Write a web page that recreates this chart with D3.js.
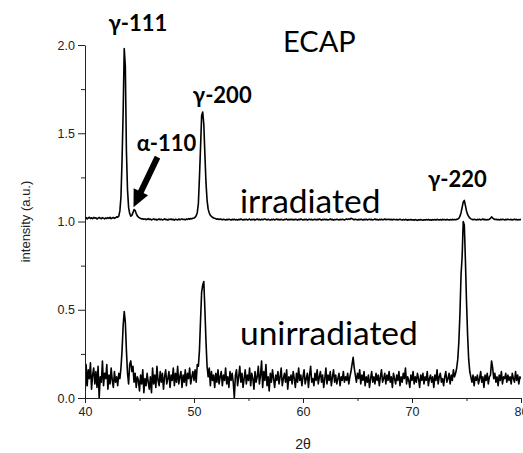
<!DOCTYPE html>
<html>
<head>
<meta charset="utf-8">
<script src="https://cdn.jsdelivr.net/npm/d3@7/dist/d3.min.js"></script>
<style>
  html, body { margin: 0; padding: 0; background: #fff; }
  svg { display: block; }
</style>
</head>
<body>
<svg id="chart" width="523" height="453"></svg>
<script>
// XRD scan: 2θ from 40° to 80° in 0.1° steps
const thetaStart = 40, thetaStep = 0.1;

// Irradiated ECAP sample (intensity, a.u.), one row per degree
const irradiated = [
  1.018,1.022,1.015,1.020,1.024,1.017,1.021,1.016,1.023,1.019,
  1.021,1.014,1.019,1.023,1.018,1.016,1.022,1.019,1.015,1.020,
  1.017,1.022,1.018,1.024,1.016,1.020,1.023,1.018,1.021,1.026,
  1.025,1.030,1.060,1.140,1.350,1.620,1.980,1.880,1.400,1.180,
  1.080,1.045,1.030,1.035,1.050,1.068,1.062,1.045,1.032,1.025,
  1.020,1.018,1.014,1.016,1.012,1.015,1.010,1.013,1.016,1.011,
  1.014,1.009,1.012,1.015,1.010,1.013,1.008,1.012,1.014,1.010,
  1.013,1.009,1.011,1.015,1.010,1.012,1.008,1.013,1.011,1.014,
  1.010,1.012,1.008,1.013,1.011,1.009,1.014,1.010,1.012,1.015,
  1.011,1.013,1.009,1.014,1.012,1.016,1.013,1.017,1.015,1.018,
  1.020,1.024,1.032,1.050,1.100,1.250,1.420,1.600,1.620,1.550,
  1.380,1.220,1.120,1.070,1.048,1.035,1.028,1.024,1.020,1.018,
  1.016,1.013,1.015,1.011,1.014,1.012,1.010,1.013,1.011,1.009,
  1.012,1.010,1.013,1.011,1.008,1.012,1.010,1.013,1.009,1.011,
  1.009,1.012,1.010,1.014,1.011,1.008,1.012,1.010,1.013,1.009,
  1.011,1.014,1.009,1.012,1.010,1.013,1.008,1.011,1.014,1.010,
  1.012,1.009,1.013,1.010,1.012,1.015,1.011,1.009,1.013,1.010,
  1.008,1.012,1.010,1.013,1.009,1.011,1.014,1.010,1.012,1.009,
  1.013,1.010,1.008,1.012,1.011,1.014,1.009,1.012,1.010,1.013,
  1.010,1.012,1.009,1.013,1.011,1.008,1.012,1.010,1.014,1.011,
  1.009,1.012,1.010,1.013,1.008,1.011,1.013,1.010,1.012,1.009,
  1.011,1.013,1.009,1.012,1.010,1.014,1.011,1.008,1.012,1.010,
  1.013,1.010,1.012,1.009,1.011,1.014,1.010,1.012,1.008,1.011,
  1.010,1.013,1.011,1.009,1.012,1.010,1.013,1.011,1.009,1.012,
  1.014,1.011,1.015,1.012,1.018,1.016,1.012,1.010,1.013,1.011,
  1.009,1.012,1.010,1.013,1.011,1.008,1.012,1.010,1.013,1.009,
  1.011,1.013,1.010,1.012,1.009,1.011,1.014,1.010,1.012,1.009,
  1.012,1.010,1.013,1.009,1.011,1.014,1.010,1.012,1.011,1.013,
  1.010,1.012,1.009,1.013,1.011,1.010,1.012,1.009,1.011,1.013,
  1.010,1.008,1.011,1.009,1.012,1.010,1.007,1.011,1.009,1.012,
  1.008,1.010,1.007,1.011,1.009,1.006,1.010,1.008,1.011,1.009,
  1.007,1.010,1.008,1.011,1.009,1.012,1.008,1.010,1.007,1.011,
  1.009,1.011,1.008,1.012,1.010,1.009,1.011,1.008,1.012,1.010,
  1.011,1.009,1.012,1.010,1.008,1.011,1.009,1.012,1.010,1.011,
  1.010,1.012,1.014,1.018,1.030,1.050,1.080,1.110,1.120,1.090,
  1.060,1.040,1.028,1.020,1.015,1.012,1.010,1.013,1.011,1.009,
  1.012,1.010,1.013,1.009,1.011,1.014,1.010,1.012,1.009,1.011,
  1.010,1.013,1.018,1.026,1.020,1.014,1.011,1.013,1.010,1.012,
  1.009,1.012,1.010,1.013,1.011,1.009,1.012,1.010,1.013,1.011,
  1.010,1.012,1.009,1.011,1.013,1.010,1.012,1.009,1.011,1.010,
  1.012
];

// Unirradiated ECAP sample (intensity, a.u.), one row per degree
const unirradiated = [
  0.00,0.19,0.07,0.16,0.11,0.20,0.05,0.13,0.17,0.08,
  0.15,0.06,0.18,0.00,0.12,0.09,0.21,0.07,0.14,0.11,
  0.19,0.05,0.13,0.08,0.17,0.10,0.06,0.15,0.09,0.12,
  0.07,0.14,0.11,0.17,0.27,0.41,0.49,0.43,0.27,0.14,
  0.08,0.19,0.21,0.15,0.18,0.09,0.14,0.06,0.12,0.10,
  0.04,0.13,0.08,0.16,0.03,0.11,0.07,0.14,0.09,0.05,
  0.12,0.03,0.17,0.08,0.13,0.06,0.18,0.10,0.07,0.15,
  0.09,0.14,0.05,0.12,0.16,0.08,0.11,0.15,0.06,0.13,
  0.10,0.17,0.07,0.14,0.09,0.18,0.08,0.12,0.15,0.06,
  0.13,0.09,0.16,0.07,0.14,0.11,0.17,0.08,0.12,0.15,
  0.10,0.16,0.09,0.19,0.18,0.27,0.44,0.60,0.64,0.66,
  0.50,0.32,0.18,0.12,0.17,0.07,0.15,0.10,0.13,0.06,
  0.14,0.09,0.16,0.08,0.12,0.15,0.07,0.13,0.10,0.17,
  0.08,0.12,0.06,0.15,0.10,0.14,0.09,0.00,0.13,0.16,
  0.07,0.12,0.18,0.09,0.14,0.06,0.11,0.16,0.08,0.13,
  0.10,0.17,0.07,0.14,0.11,0.05,0.15,0.09,0.12,0.18,
  0.08,0.13,0.21,0.06,0.15,0.10,0.19,0.07,0.12,0.04,
  0.14,0.09,0.16,0.11,0.06,0.13,0.10,0.15,0.08,0.12,
  0.17,0.07,0.11,0.14,0.09,0.16,0.05,0.12,0.10,0.13,
  0.08,0.15,0.11,0.06,0.14,0.09,0.17,0.10,0.13,0.07,
  0.12,0.16,0.08,0.11,0.14,0.06,0.13,0.18,0.09,0.11,
  0.07,0.14,0.10,0.16,0.08,0.12,0.15,0.09,0.13,0.06,
  0.11,0.17,0.08,0.13,0.10,0.15,0.07,0.12,0.16,0.09,
  0.13,0.08,0.11,0.14,0.07,0.12,0.10,0.15,0.09,0.12,
  0.10,0.14,0.08,0.12,0.15,0.19,0.23,0.17,0.13,0.09,
  0.14,0.11,0.16,0.08,0.13,0.10,0.15,0.07,0.12,0.09,
  0.13,0.06,0.11,0.15,0.09,0.12,0.08,0.14,0.10,0.13,
  0.07,0.12,0.16,0.09,0.11,0.14,0.08,0.13,0.10,0.15,
  0.09,0.12,0.06,0.14,0.11,0.08,0.13,0.10,0.15,0.07,
  0.12,0.09,0.14,0.11,0.17,0.08,0.12,0.10,0.06,0.13,
  0.10,0.15,0.08,0.12,0.09,0.14,0.11,0.06,0.13,0.10,
  0.14,0.08,0.12,0.10,0.15,0.07,0.11,0.13,0.09,0.12,
  0.06,0.13,0.10,0.16,0.08,0.12,0.14,0.09,0.11,0.07,
  0.12,0.15,0.09,0.11,0.14,0.08,0.13,0.10,0.16,0.12,
  0.14,0.17,0.22,0.32,0.48,0.70,0.80,1.00,0.98,0.78,
  0.55,0.36,0.22,0.15,0.12,0.09,0.13,0.07,0.12,0.10,
  0.13,0.08,0.11,0.15,0.09,0.12,0.06,0.13,0.10,0.14,
  0.08,0.12,0.13,0.21,0.17,0.11,0.14,0.09,0.12,0.07,
  0.13,0.10,0.15,0.08,0.12,0.11,0.14,0.09,0.13,0.10,
  0.12,0.08,0.14,0.11,0.09,0.15,0.10,0.13,0.08,0.12,
  0.11
];

// Axis ticks
const xTicks = [40, 50, 60, 70, 80];
const xMinorTicks = [45, 55, 65, 75];
const yTicks = [0.0, 0.5, 1.0, 1.5, 2.0];
const yMinorTicks = [0.25, 0.75, 1.25, 1.75];

// Peak annotations: label, 2θ of the peak, peak intensity
const peakLabels = ["γ-111", "γ-200", "γ-220"];
const peakTheta = [43.65, 50.85, 74.8];
const peakTop = [1.99, 1.62, 1.12];

const svg = d3.select("#chart");
const plot = { left: 85, right: 521, top: 45, bottom: 398 };

const x = d3.scaleLinear().domain([40, 80]).range([plot.left, plot.right]);
const y = d3.scaleLinear().domain([0, 2]).range([plot.bottom, plot.top]);

const axisColor = "#222";
const tickFont = "'Liberation Sans', Arial, sans-serif";
const annoFont = "Lato, 'Open Sans', sans-serif";

svg.append("defs").append("clipPath").attr("id", "plotClip")
  .append("rect")
  .attr("x", plot.left).attr("y", plot.top - 2)
  .attr("width", plot.right - plot.left).attr("height", plot.bottom - plot.top + 2);

// traces
const line = d3.line()
  .x((d, i) => x(thetaStart + i * thetaStep))
  .y(d => y(d));

const traces = svg.append("g").attr("clip-path", "url(#plotClip)");
[unirradiated, irradiated].forEach(series => {
  traces.append("path")
    .datum(series)
    .attr("d", line)
    .attr("fill", "none")
    .attr("stroke", "#000")
    .attr("stroke-width", 1.6)
    .attr("stroke-linejoin", "round");
});

// x axis
const gx = svg.append("g").attr("transform", `translate(0,${plot.bottom})`);
gx.call(d3.axisBottom(x).tickValues(xTicks).tickFormat(d3.format("d"))
  .tickSize(5).tickSizeOuter(0).tickPadding(4));
gx.append("g").call(d3.axisBottom(x).tickValues(xMinorTicks).tickFormat("")
  .tickSize(3).tickSizeOuter(0))
  .select(".domain").remove();

// y axis
const gy = svg.append("g").attr("transform", `translate(${plot.left},0)`);
gy.call(d3.axisLeft(y).tickValues(yTicks).tickFormat(d3.format(".1f"))
  .tickSize(7).tickSizeOuter(0).tickPadding(3));
gy.append("g").call(d3.axisLeft(y).tickValues(yMinorTicks).tickFormat("")
  .tickSize(4).tickSizeOuter(0))
  .select(".domain").remove();

svg.selectAll(".domain, .tick line").attr("stroke", axisColor).attr("stroke-width", 1);
svg.selectAll(".tick text")
  .attr("fill", "#222")
  .style("font-family", tickFont)
  .style("font-size", "12.5px");

// axis titles
svg.append("text")
  .attr("transform", `translate(30,${(plot.top + plot.bottom) / 2}) rotate(-90)`)
  .attr("text-anchor", "middle")
  .style("font-family", tickFont).style("font-size", "13px").attr("fill", "#222")
  .text("intensity (a.u.)");

svg.append("text")
  .attr("x", (plot.left + plot.right) / 2).attr("y", 449)
  .attr("text-anchor", "middle")
  .style("font-family", tickFont).style("font-size", "14px").attr("fill", "#222")
  .text("2θ");

// peak labels, shifted from their peak apex by a small pixel offset
const labelShift = [[13, -16], [19, -9], [-7, -13]];
peakLabels.forEach((label, i) => {
  svg.append("text")
    .attr("x", x(peakTheta[i]) + labelShift[i][0])
    .attr("y", y(peakTop[i]) + labelShift[i][1])
    .attr("text-anchor", "middle")
    .style("font-family", annoFont).style("font-weight", "bold").style("font-size", "22px")
    .attr("fill", "#000")
    .text(label);
});

// α-110 shoulder with arrow
const alphaTheta = 44.45, alphaTop = 1.07;
svg.append("text")
  .attr("x", x(alphaTheta) + 33).attr("y", y(alphaTop) - 58)
  .attr("text-anchor", "middle")
  .style("font-family", annoFont).style("font-weight", "bold").style("font-size", "22px")
  .attr("fill", "#000")
  .text("α-110");

const tip = [x(alphaTheta), y(alphaTop) - 2];
const tail = [tip[0] + 24, tip[1] - 50];
const ang = Math.atan2(tip[1] - tail[1], tip[0] - tail[0]);
const headLen = 17, headHalf = 8;
const base = [tip[0] - headLen * Math.cos(ang), tip[1] - headLen * Math.sin(ang)];
const nx = -Math.sin(ang), ny = Math.cos(ang);
svg.append("line")
  .attr("x1", tail[0]).attr("y1", tail[1])
  .attr("x2", base[0] + 2 * Math.cos(ang)).attr("y2", base[1] + 2 * Math.sin(ang))
  .attr("stroke", "#000").attr("stroke-width", 6);
svg.append("path")
  .attr("d", `M${tip[0]},${tip[1]} L${base[0] + nx * headHalf},${base[1] + ny * headHalf} L${base[0] - nx * headHalf},${base[1] - ny * headHalf} Z`)
  .attr("fill", "#000");

// sample labels
const bigText = (txt, xPos, yPos, size) => svg.append("text")
  .attr("x", xPos).attr("y", yPos)
  .style("font-family", annoFont).style("font-size", size + "px")
  .attr("fill", "#000")
  .text(txt);

bigText("ECAP", 283, 52, 29);
bigText("irradiated", 240, 213, 33.5);
bigText("unirradiated", 240, 345, 33.5);
</script>
</body>
</html>
